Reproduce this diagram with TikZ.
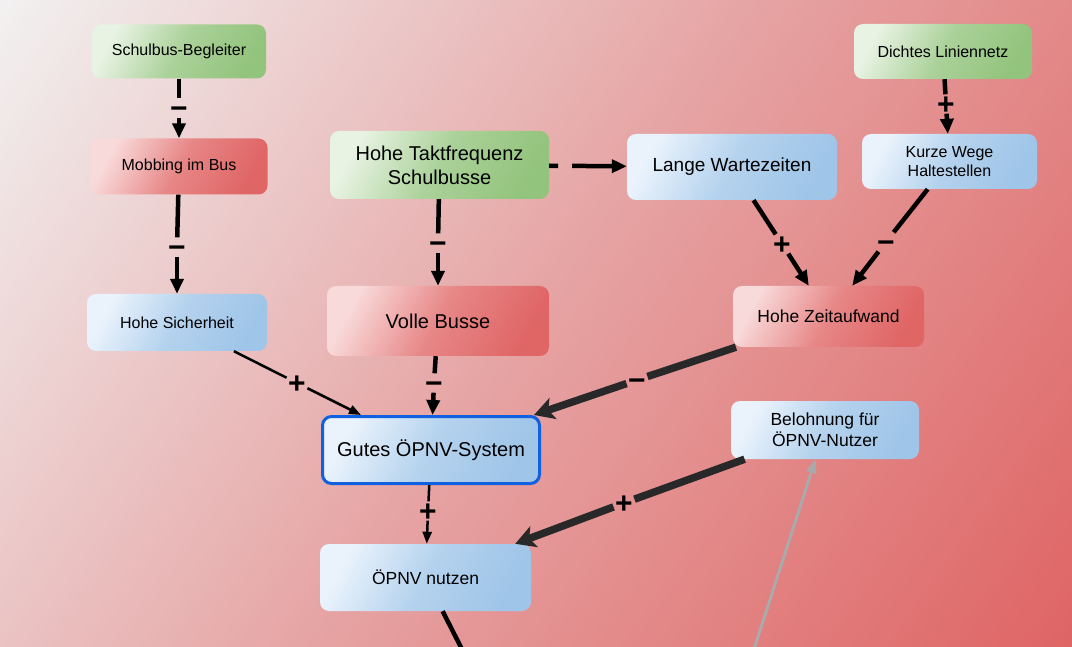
\documentclass[tikz,border=0pt]{standalone}
\usepackage{fontspec}
\setmainfont{Liberation Sans}
\usetikzlibrary{arrows.meta}
\definecolor{bgA}{RGB}{242,241,241}
\definecolor{bgM}{RGB}{230,163,163}
\definecolor{bgB}{RGB}{223,100,100}
\definecolor{gL}{RGB}{232,243,227}
\definecolor{gD}{RGB}{147,196,125}
\definecolor{rL}{RGB}{249,218,218}
\definecolor{rD}{RGB}{224,102,102}
\definecolor{bL}{RGB}{234,243,252}
\definecolor{bD}{RGB}{159,197,232}
\definecolor{gutesBlue}{RGB}{16,96,224}
\definecolor{bigGrey}{RGB}{40,40,40}
\definecolor{lineGrey}{RGB}{170,170,170}
\newcommand\fz[2]{\fontsize{#1}{#2}\selectfont}
\tikzset{
  nd/.style={rounded corners=9pt, align=center, inner sep=0pt, text=black},
  grn/.style={nd, left color=gL, right color=gD, middle color=gD!72!gL, shading angle=62},
  red/.style={nd, left color=rL, right color=rD, middle color=rD!72!rL, shading angle=62},
  blu/.style={nd, left color=bL, right color=bD, middle color=bD!72!bL, shading angle=62},
  lab/.style={font=\bfseries\fz{30}{30}, text height=21pt, text depth=0pt, inner ysep=-1pt, inner xsep=1.5pt},
  ln/.style={line width=4.5pt, black},
  tri/.style={-{Triangle[length=15pt,width=13pt]}},
  thn/.style={line width=2.5pt, black},
  ttri/.style={-{Triangle[length=12pt,width=9pt]}},
  big/.style={line width=7.5pt, bigGrey},
  btri/.style={-{Stealth[length=20pt,width=22pt,inset=5pt]}},
  gry/.style={line width=3pt, lineGrey, -{Triangle[length=14pt,width=10pt]}}
}
\begin{document}
\begin{tikzpicture}[x=1pt,y=-1pt]
\useasboundingbox (0,0) rectangle (1072,647);
\clip (0,0) rectangle (1072,647);
\shade[left color=bgA, right color=bgB, middle color=bgM,
  transform canvas={rotate around={-35:(536,323.5)}}]
  (536-625,323.5-625) rectangle (536+625,323.5+625);

% nodes
\node[grn, minimum width=174pt, minimum height=54pt, font=\fz{16}{19}] (sb) at (179,51.5) {Schulbus-Begleiter};
\node[red, minimum width=177pt, minimum height=56pt, font=\fz{16}{19}] (mob) at (179,166.5) {Mobbing im Bus};
\node[grn, minimum width=219pt, minimum height=68pt, font=\fz{20}{24}] (tak) at (439.5,165) {Hohe Taktfrequenz\\Schulbusse};
\node[blu, minimum width=210pt, minimum height=66pt, font=\fz{19}{23}] (lan) at (732,167) {Lange Wartezeiten};
\node[grn, minimum width=178pt, minimum height=55pt, font=\fz{16}{19}] (dic) at (943,51.5) {Dichtes Liniennetz};
\node[blu, minimum width=175pt, minimum height=55pt, font=\fz{16}{19}] (kur) at (949.5,161.5) {Kurze Wege\\Haltestellen};
\node[blu, minimum width=180pt, minimum height=57pt, font=\fz{16}{19}] (sic) at (177,322.5) {Hohe Sicherheit};
\node[red, minimum width=222pt, minimum height=70pt, font=\fz{20}{24}] (vol) at (438,321) {Volle Busse};
\node[red, minimum width=191pt, minimum height=61pt, font=\fz{17.5}{21}] (zei) at (828.5,316.5) {Hohe Zeitaufwand};
\node[blu, draw=gutesBlue, line width=3pt, minimum width=217pt, minimum height=67pt, font=\fz{20}{24}] (gut) at (431,450) {Gutes ÖPNV-System};
\node[blu, minimum width=188pt, minimum height=58pt, font=\fz{17.5}{21}] (bel) at (825,430) {Belohnung für\\ÖPNV-Nutzer};
\node[blu, minimum width=211pt, minimum height=67pt, font=\fz{17.5}{21}] (opn) at (425.5,577.5) {ÖPNV nutzen};

% label nodes
\node[lab] (l1) at (179,108) {−};
\node[lab] (l2) at (177,247) {−};
\node[lab] (l3) at (438,243) {−};
\node[lab] (l4) at (782,244) {+};
\node[lab] (l5) at (946,104) {+};
\node[lab] (l6) at (886,242) {−};
\node[lab] (l7) at (297,383) {+};
\node[lab] (l8) at (434,383) {−};
\node[lab] (l9) at (637,380) {−};
\node[lab] (l10) at (624,503) {+};
\node[lab] (l11) at (428,511) {+};

\coordinate (gEnd) at (744,680);
\coordinate (nEnd) at (470,665);

% edges
\draw[ln] (sb) -- (l1);  \draw[ln,tri] (l1) -- (mob);
\draw[ln] (mob) -- (l2); \draw[ln,tri] (l2) -- (sic);
\draw[ln] (tak) -- (l3); \draw[ln,tri] (l3) -- (vol);
\draw[ln,tri,dash pattern=on 40pt off 14pt,dash phase=31pt] (tak) -- (lan);
\draw[ln] (lan) -- (l4); \draw[ln,tri] (l4) -- (zei);
\draw[ln] (dic) -- (l5); \draw[ln,tri] (l5) -- (kur);
\draw[ln] (kur) -- (l6); \draw[ln,tri] (l6) -- (zei);
\draw[thn] (sic) -- (l7); \draw[thn,ttri] (l7) -- (gut);
\draw[ln] (vol) -- (l8); \draw[ln,tri] (l8) -- (gut);
\draw[big] (zei) -- (l9); \draw[big,btri] (l9) -- (gut);
\draw[big] (bel) -- (l10); \draw[big,btri] (l10) -- (opn);
\draw[thn] (gut) -- (l11); \draw[thn,ttri] (l11) -- (opn);
\draw[gry] (gEnd) -- (bel);
\draw[ln] (opn) -- (nEnd);
\end{tikzpicture}
\end{document}
